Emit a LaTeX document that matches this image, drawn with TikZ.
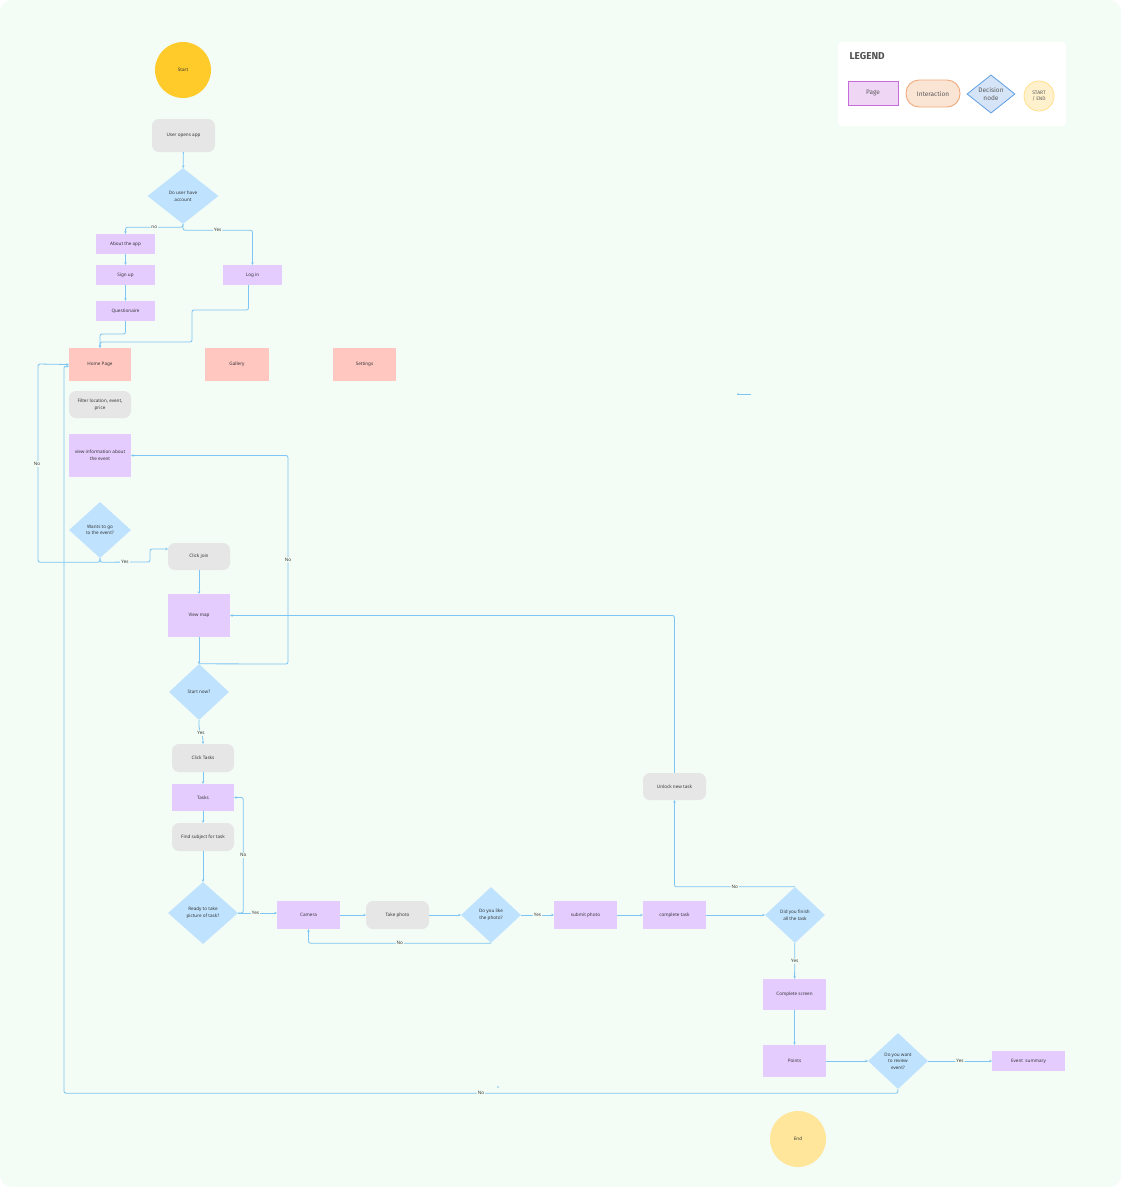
\documentclass[tikz,border=0pt]{standalone}
\usepackage{fontspec}
\setmainfont{Noto Sans}
\newfontfamily\legfont{Fira Sans}
\usetikzlibrary{shapes.geometric,arrows.meta}
\definecolor{bgc}{HTML}{F3FCF5}
\definecolor{startc}{HTML}{FFCB2B}
\definecolor{endc}{HTML}{FFE69A}
\definecolor{grayc}{HTML}{E6E6E6}
\definecolor{decc}{HTML}{BFE3FF}
\definecolor{pagec}{HTML}{E5CCFF}
\definecolor{homec}{HTML}{FFC7C0}
\definecolor{linec}{HTML}{7DC5F4}
\definecolor{txtc}{HTML}{333333}
\newcommand\smallfnt{\fontsize{4.6}{6.6}\selectfont}
\tikzset{
  base/.style={inner sep=0pt, align=center, font=\smallfnt, text=txtc},
  pg/.style={base, rectangle, fill=pagec},
  hp/.style={base, rectangle, fill=homec},
  intr/.style={base, rectangle, rounded corners=7pt, fill=grayc},
  dec/.style={base, diamond, fill=decc},
  term/.style={base, circle, minimum size=56pt},
  conn/.style={draw=linec, line width=0.8pt, rounded corners=2pt, -{Stealth[length=2.5pt,width=2.5pt]}},
  lbl/.style={fill=bgc, inner sep=1pt, font=\smallfnt, text=txtc},
}
\begin{document}
\begin{tikzpicture}[x=1pt,y=-1pt]
\useasboundingbox (0,0) rectangle (1121,1187);
\fill[white] (0,0) rectangle (1121,1187);
\fill[bgc, rounded corners=12pt] (0,0) rectangle (1121,1187);

% legend
\fill[white, rounded corners=3pt] (838,42) rectangle (1066,126);
\node[anchor=west, font=\legfont\bfseries\fontsize{10}{12}\selectfont, text=txtc!85] (legtitle) at (846,56) {LEGEND};
\node[rectangle, draw={rgb,255:red,200;green,107;blue,218}, line width=0.9pt, fill={rgb,255:red,239;green,214;blue,245}, minimum width=50pt, minimum height=24pt, font=\legfont\fontsize{6.5}{8}\selectfont, text=txtc!80] (legpage) at (873,93) {Page};
\node[rectangle, rounded corners=13pt, draw={rgb,255:red,239;green,169;blue,124}, line width=0.9pt, fill={rgb,255:red,250;green,228;blue,212}, minimum width=54pt, minimum height=27pt, font=\legfont\fontsize{6.5}{8}\selectfont, text=txtc!80] (leginter) at (933,93.5) {Interaction};
\node[diamond, draw={rgb,255:red,94;green,158;blue,229}, line width=0.8pt, fill={rgb,255:red,213;green,228;blue,247}, minimum width=48pt, minimum height=30pt, inner sep=0pt, align=center, font=\legfont\fontsize{6.5}{8}\selectfont, text=txtc!80] (legdec) at (991,94) {Decision\\node};
\node[circle, draw={rgb,255:red,255;green,224;blue,138}, line width=0.8pt, fill={rgb,255:red,255;green,241;blue,204}, minimum size=30pt, inner sep=0pt, align=center, font=\legfont\fontsize{5}{6.5}\selectfont, text=txtc!80] (legterm) at (1039,96) {START\\/ END};

% nodes
\node[term, fill=startc] (start) at (183,70) {Start};
\node[intr, minimum width=63pt, minimum height=33pt] (useropens) at (183.5,135.5) {User opens app};
\node[dec, minimum width=71pt, minimum height=56pt] (ask) at (183,196) {Do user have\\account};
\node[pg, minimum width=59pt, minimum height=20pt] (about) at (125.5,244) {About the app};
\node[pg, minimum width=59pt, minimum height=20pt] (signup) at (125.5,275) {Sign up};
\node[pg, minimum width=59pt, minimum height=20pt] (quest) at (125.5,311) {Questionaire};
\node[pg, minimum width=59pt, minimum height=20pt] (login) at (252.5,275) {Log in};
\node[hp, minimum width=62pt, minimum height=33pt] (home) at (100,364.5) {Home Page};
\node[hp, minimum width=64pt, minimum height=33pt] (gallery) at (237,364.5) {Gallery};
\node[hp, minimum width=63pt, minimum height=33pt] (settings) at (364.5,364.5) {Settings};
\node[intr, minimum width=62pt, minimum height=27pt] (filter) at (100,404.5) {Filter location, event,\\price};
\node[pg, minimum width=62pt, minimum height=43pt] (viewinfo) at (100,455.5) {view information about\\the event};
\node[dec, minimum width=62pt, minimum height=56pt] (wants) at (100,530) {Wants to go\\to the event?};
\node[intr, minimum width=62pt, minimum height=27pt] (clickjoin) at (199,556.5) {Click join};
\node[pg, minimum width=62pt, minimum height=43pt] (viewmap) at (199,615.5) {View map};
\node[dec, minimum width=60pt, minimum height=56pt] (startnow) at (199,692) {Start now?};
\node[intr, minimum width=62pt, minimum height=28pt] (clicktasks) at (203,758) {Click Tasks};
\node[pg, minimum width=62pt, minimum height=27pt] (tasks) at (203,797.5) {Tasks};
\node[intr, minimum width=62pt, minimum height=28pt] (find) at (203,837) {Find subject for task};
\node[dec, minimum width=70pt, minimum height=62pt] (ready) at (203,913) {Ready to take\\picture of task?};
\node[pg, minimum width=63pt, minimum height=28pt] (camera) at (308.5,915) {Camera};
\node[intr, minimum width=63pt, minimum height=28pt] (takephoto) at (397.5,915) {Take photo};
\node[dec, minimum width=60pt, minimum height=56pt] (like) at (491,915) {Do you like\\the photo?};
\node[pg, minimum width=63pt, minimum height=28pt] (submit) at (585.5,915) {submit photo};
\node[pg, minimum width=63pt, minimum height=28pt] (complete) at (674.5,915) {complete task};
\node[dec, minimum width=60pt, minimum height=56pt] (finish) at (795,915) {Did you finish\\all the task};
\node[intr, minimum width=63pt, minimum height=27pt] (unlock) at (674.5,786.5) {Unlock new task};
\node[pg, minimum width=63pt, minimum height=31pt] (compscreen) at (794.5,994.5) {Complete screen};
\node[pg, minimum width=63pt, minimum height=32pt] (points) at (794.5,1061) {Points};
\node[dec, minimum width=60pt, minimum height=56pt] (review) at (898,1061) {Do you want\\to review\\event?};
\node[pg, minimum width=73pt, minimum height=20pt] (summary) at (1028.5,1061) {Event\ \ summary};
\node[term, fill=endc] (end) at (798,1139) {End};

% connectors
\draw[conn] (useropens) -- (ask);
\draw[conn] (ask.south) -- ++(0,3) -| node[lbl,pos=0.25]{no} (about.north);
\draw[conn] (ask.south) -- ++(0,6) -| node[lbl,pos=0.25]{Yes} (login.north);
\draw[conn] (about) -- (signup);
\draw[conn] (signup) -- (quest);
\draw[conn] (quest.south) |- (100,334) -- (home.north);
\draw[conn] ([xshift=-4pt]login.south) |- (192,310) -- (192,342) -| (home.north);
\draw[conn] (wants.south) -- ++(0,4) -| (38,364) -- (home.west);
\node[lbl] (lno1) at (37,464) {No};
\draw[conn] (wants.south) -- ++(0,4) -- (150,562) -- (150,549) -- (168,549);
\node[lbl] (lyes1) at (125,562) {Yes};
\draw[conn] (clickjoin) -- (viewmap);
\draw[conn] (viewmap) -- (startnow);
\draw[conn] (startnow.north) -- (288,664) |- node[lbl,pos=0.25]{No} (viewinfo.east);
\draw[conn] (startnow.south) -- (199,728) -- (203,738) -- (clicktasks.north);
\node[lbl] (lyes2) at (201,733) {Yes};
\draw[conn] (clicktasks) -- (tasks);
\draw[conn] (tasks) -- (find);
\draw[conn] (find) -- (ready);
\draw[conn] (ready.east) -- ++(5,0) |- node[lbl,pos=0.25]{No} (tasks.east);
\draw[conn] (ready.east) -- node[lbl,pos=0.45]{Yes} (camera.west |- ready.east);
\draw[conn] (camera) -- (takephoto);
\draw[conn] (takephoto) -- (like);
\draw[conn] (like.south) -| node[lbl,pos=0.25]{No} (camera.south);
\draw[conn] (like) -- node[lbl]{Yes} (submit);
\draw[conn] (submit) -- (complete);
\draw[conn] (complete) -- (finish);
\draw[conn] (finish.north) -| node[lbl,pos=0.25]{No} (unlock.south);
\draw[conn] (unlock.north) |- (viewmap.east);
\draw[conn] (finish) -- node[lbl]{Yes} (compscreen);
\draw[conn] (compscreen) -- (points);
\draw[conn] (points) -- (review);
\draw[conn] (review) -- node[lbl]{Yes} (summary);
\draw[conn] (review.south) -- ++(0,4) -| node[lbl,pos=0.25]{No} (64,366) -- ([yshift=-2pt]home.west);

% stray marks
\coordinate (s1) at (738,394);
\coordinate (s2) at (751,394);
\draw[linec, line width=1pt] (s1) -- (s2);
\fill[linec] (s1) circle (1pt);
\fill[linec] (498,1087) circle (0.8pt);
\end{tikzpicture}
\end{document}
